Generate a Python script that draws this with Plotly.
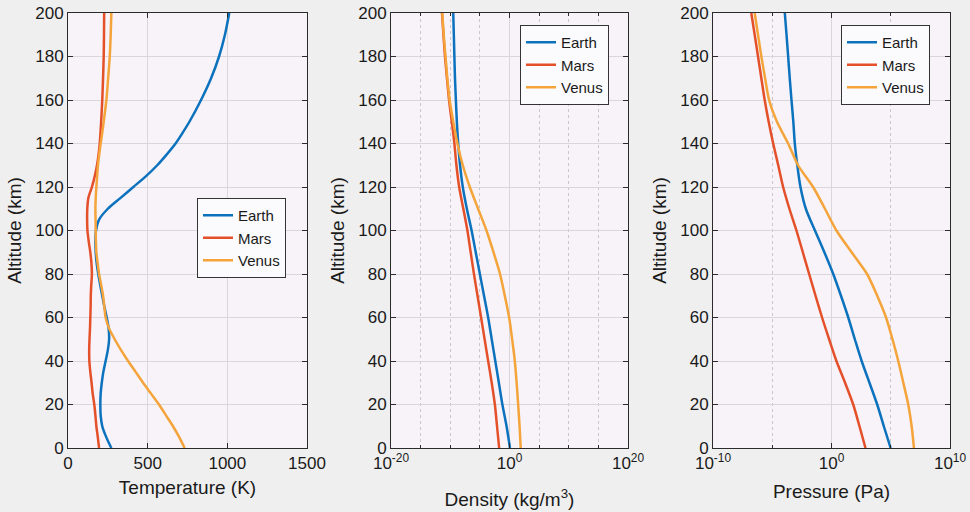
import plotly.graph_objects as go

# ---------------- data ----------------
altitude_km = [0, 10, 20, 30, 40, 50, 60, 70, 80, 90, 100, 110, 120, 130, 140, 150, 160, 170, 180, 190, 200]

# Temperature (K) sampled at finer altitudes
temp_alt = [0, 5, 10, 15, 20, 25, 30, 35, 40, 45, 50, 55, 60, 65, 70, 75, 80, 85, 90, 95, 100,
            105, 110, 115, 120, 125, 130, 135, 140, 145, 150, 160, 170, 180, 190, 200]
earth_T = [272, 240, 215, 205, 203, 205, 212, 222, 236, 250, 258, 255, 243, 228, 215, 202, 190, 180, 174, 172, 176,
           195, 250, 330, 410, 490, 560, 620, 675, 720, 762, 835, 898, 948, 985, 1012]
mars_T = [195, 187, 178, 172, 165, 155, 148, 140, 134, 133, 135, 138, 140, 142, 143, 146, 150, 147, 140, 130, 122,
          120, 121, 128, 150, 168, 182, 192, 199, 204, 208, 215, 220, 224, 226, 227]
venus_T = [732, 698, 659, 615, 571, 521, 471, 424, 377, 333, 293, 258, 236, 228, 220, 208, 195, 186, 178, 175, 174,
           173, 172, 174, 178, 183, 188, 196, 205, 215, 224, 241, 252, 262, 268, 272]

# Density (kg/m^3)
earth_rho = [1.2, 3.2e-1, 6.3e-2, 1.6e-2, 4.0e-3, 1.0e-3, 2.5e-4, 5.0e-5, 1.0e-5, 2.0e-6, 4.0e-7, 6.3e-8, 1.3e-8,
             4.5e-9, 2.2e-9, 1.3e-9, 8.9e-10, 6.3e-10, 5.0e-10, 4.0e-10, 3.2e-10]
mars_rho = [1.8e-2, 7.9e-3, 3.4e-3, 1.0e-3, 2.5e-4, 6.3e-5, 1.6e-5, 4.0e-6, 1.0e-6, 2.8e-7, 7.9e-8, 1.6e-8, 3.2e-9,
            1.1e-9, 5.0e-10, 1.8e-10, 6.3e-11, 2.8e-11, 1.3e-11, 7.1e-12, 4.0e-12]
venus_rho = [79, 50, 29, 16, 7.9, 2.8, 8.7e-1, 1.6e-1, 2.5e-2, 2.0e-3, 1.3e-4, 5.0e-6, 2.0e-7, 1.3e-8, 1.6e-9,
             3.2e-10, 7.9e-11, 3.2e-11, 1.6e-11, 7.9e-12, 4.5e-12]

# Pressure (Pa)
earth_p = [9.8e4, 2.6e4, 7.2e3, 1.6e3, 3.5e2, 93, 26, 6.3, 1.4, 2.5e-1, 4.0e-2, 6.8e-3, 2.4e-3, 1.3e-3, 8.0e-4,
           6.0e-4, 4.2e-4, 3.0e-4, 2.2e-4, 1.6e-4, 1.15e-4]
mars_p = [740, 230, 68, 14, 2.6, 6.3e-1, 1.6e-1, 4.5e-2, 1.3e-2, 3.8e-3, 1.1e-3, 2.8e-4, 8.3e-5, 3.2e-5, 1.2e-5,
          5.0e-6, 2.3e-6, 1.2e-6, 6.3e-7, 3.3e-7, 1.7e-7]
venus_p = [9.1e6, 5.8e6, 3.0e6, 1.15e6, 4.3e5, 1.4e5, 4.0e4, 7.2e3, 1.0e3, 50, 2.6, 2.8e-1, 2.8e-2, 1.5e-3,
           2.2e-4, 2.5e-5, 5.4e-6, 2.5e-6, 1.2e-6, 6.3e-7, 3.3e-7]

planets = ["Earth", "Mars", "Venus"]
colors = {"Earth": "#0c72bd", "Mars": "#e4502a", "Venus": "#f4a43a"}

temp_ticks = [0, 500, 1000, 1500]
rho_ticks = [1e-20, 1e0, 1e20]
rho_ticktext = ["10<sup>-20</sup>", "10<sup>0</sup>", "10<sup>20</sup>"]
rho_minor = [1e-15, 1e-10, 1e-5, 1e5, 1e10, 1e15]
p_ticks = [1e-10, 1e0, 1e10]
p_ticktext = ["10<sup>-10</sup>", "10<sup>0</sup>", "10<sup>10</sup>"]
p_minor = [1e-5, 1e5]
alt_ticks = list(range(0, 201, 20))

# ---------------- figure ----------------
FONT = "Liberation Sans, Arial, Helvetica, sans-serif"
fig = go.Figure()

panels = [
    ("x", "y", "legend", {"Earth": earth_T, "Mars": mars_T, "Venus": venus_T}, temp_alt),
    ("x2", "y2", "legend2", {"Earth": earth_rho, "Mars": mars_rho, "Venus": venus_rho}, altitude_km),
    ("x3", "y3", "legend3", {"Earth": earth_p, "Mars": mars_p, "Venus": venus_p}, altitude_km),
]
for xa, ya, lg, data, alts in panels:
    for name in planets:
        fig.add_trace(go.Scatter(
            x=data[name], y=alts, mode="lines", name=name,
            line=dict(color=colors[name], width=2.5, shape="spline", smoothing=0.8),
            xaxis=xa, yaxis=ya, legend=lg, showlegend=True,
        ))

L, R, T, B = 68, 20, 13, 64
W = 970 - L - R
H = 512 - T - B
def dom(a, b):
    return [(a - L) / W, (b - L) / W]

axis_common = dict(
    showline=True, linecolor="#2b2b2b", linewidth=1, mirror="ticks",
    ticks="inside", ticklen=5, tickcolor="#2b2b2b",
    gridcolor="#d9d7db", gridwidth=1, zeroline=False, automargin=False,
    tickfont=dict(family=FONT, size=17, color="#1a1a1a"),
)
title_font = dict(family=FONT, size=19, color="#1a1a1a")

grid_minor = dict(ticks="inside", ticklen=3, tickcolor="#2b2b2b", showgrid=True,
                  griddash="dot", gridcolor="#c9c7cc", gridwidth=1)

layout_axes = dict(
    xaxis=dict(domain=dom(68, 307), range=[0, 1500], tickmode="array", tickvals=temp_ticks,
               title=dict(text="Temperature (K)", standoff=8, font=title_font), anchor="y", **axis_common),
    xaxis2=dict(domain=dom(391, 628), type="log", range=[-20, 20], tickmode="array",
                tickvals=rho_ticks, ticktext=rho_ticktext,
                minor=dict(tickmode="array", tickvals=rho_minor, **grid_minor),
                title=dict(text="Density (kg/m<sup>3</sup>)", standoff=20, font=title_font),
                anchor="y2", **axis_common),
    xaxis3=dict(domain=dom(713, 950), type="log", range=[-10, 10], tickmode="array",
                tickvals=p_ticks, ticktext=p_ticktext,
                minor=dict(tickmode="array", tickvals=p_minor, **grid_minor),
                title=dict(text="Pressure (Pa)", standoff=12, font=title_font), anchor="y3", **axis_common),
)
for i, xa in zip(["", "2", "3"], ["x", "x2", "x3"]):
    layout_axes["yaxis" + i] = dict(domain=[0, 1], range=[0, 200], tickmode="array", tickvals=alt_ticks,
                                    title=dict(text="Altitude (km)", standoff=8, font=title_font),
                                    anchor=xa, **axis_common)

legend_common = dict(
    bgcolor="#fbfafc", bordercolor="#333333", borderwidth=1,
    font=dict(family=FONT, size=15, color="#1a1a1a"),
    xanchor="left", yanchor="top", tracegroupgap=0, itemwidth=30,
    entrywidth=56, entrywidthmode="pixels",
)

fig.update_layout(
    width=970, height=512, autosize=False,
    margin=dict(l=L, r=R, t=T, b=B, pad=0, autoexpand=False),
    paper_bgcolor="#efefef", plot_bgcolor="#f7f3f8",
    font=dict(family=FONT, size=16),
    legend=dict(x=(197 - L) / W, y=(512 - 198 - B) / H, **legend_common),
    legend2=dict(x=(520 - L) / W, y=(512 - 25 - B) / H, **legend_common),
    legend3=dict(x=(841 - L) / W, y=(512 - 25 - B) / H, **legend_common),
    **layout_axes,
)

fig.write_html("out.html", config={"responsive": False})
